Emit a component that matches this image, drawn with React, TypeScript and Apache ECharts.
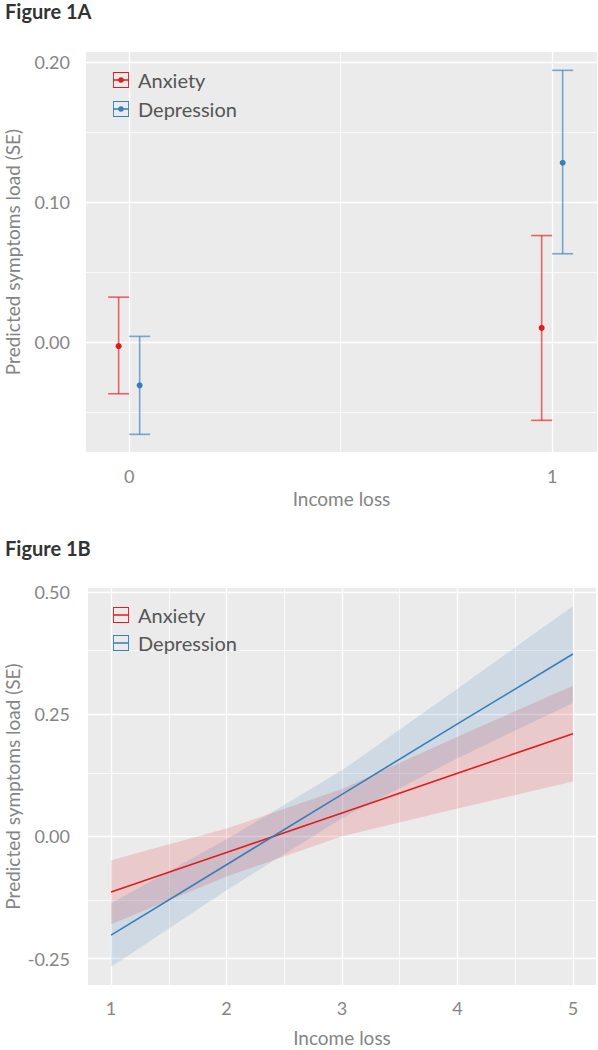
import React, { useEffect, useRef } from "react";
import * as echarts from "echarts";

// ---------- Figure 1A data (point estimate with SE interval) ----------
const incomeLossGroups = [0, 1];
const anxietyMean = [-0.003, 0.01];
const anxietyLow = [-0.037, -0.056];
const anxietyHigh = [0.032, 0.076];
const depressionMean = [-0.031, 0.128];
const depressionLow = [-0.066, 0.063];
const depressionHigh = [0.004, 0.194];
const yTicks1A = [0, 0.1, 0.2];
const yGrid1A = [-0.05, 0, 0.05, 0.1, 0.15, 0.2];
const xGrid1A = [0, 0.5, 1];

// ---------- Figure 1B data (fitted line with SE band) ----------
const incomeLevels = [1, 2, 3, 4, 5];
const anxietyFit = [-0.114, -0.033, 0.048, 0.129, 0.21];
const anxietyLower = [-0.18, -0.082, 0.0, 0.057, 0.112];
const anxietyUpper = [-0.049, 0.016, 0.097, 0.204, 0.308];
const depressionFit = [-0.202, -0.058, 0.086, 0.23, 0.373];
const depressionLower = [-0.267, -0.11, 0.037, 0.16, 0.273];
const depressionUpper = [-0.137, -0.006, 0.135, 0.302, 0.471];
const yTicks1B = [-0.25, 0, 0.25, 0.5];
const yGrid1B = [-0.25, -0.125, 0, 0.125, 0.25, 0.375, 0.5];
const xTicks1B = [1, 2, 3, 4, 5];
const xGrid1B = [1, 1.5, 2, 2.5, 3, 3.5, 4, 4.5, 5];

const RED = "#E41A1C";
const BLUE = "#377EB8";
const FONT = "Lato";
const GRAY_TEXT = "#858585";

const iconPoint =
  "path://M0,0L16,0L16,16L0,16Z M0.9,0.9L0.9,15.1L15.1,15.1L15.1,0.9Z M0.9,7.3L15.1,7.3L15.1,8.7L0.9,8.7Z M5.3,8A2.7,2.7 0 1 1 10.7,8A2.7,2.7 0 1 1 5.3,8Z";
const iconBand =
  "path://M0,0L16,0L16,16L0,16Z M0.9,0.9L0.9,15.1L15.1,15.1L15.1,0.9Z M0.9,7.3L15.1,7.3L15.1,8.7L0.9,8.7Z";

function gridLines(xs: number[], ys: number[], majorX: number[], majorY: number[]) {
  const d: any[] = [];
  xs.forEach((v) =>
    d.push({ xAxis: v, lineStyle: { width: majorX.includes(v) ? 1.3 : 0.7 } })
  );
  ys.forEach((v) =>
    d.push({ yAxis: v, lineStyle: { width: majorY.includes(v) ? 1.3 : 0.7 } })
  );
  return {
    symbol: ["none", "none"],
    silent: true,
    z: 1,
    label: { show: false },
    emphasis: { disabled: true },
    lineStyle: { color: "#FFFFFF", type: "solid", opacity: 1 },
    data: d,
  };
}

function errorBarSeries(
  name: string,
  color: string,
  mean: number[],
  low: number[],
  high: number[],
  offset: number
) {
  return {
    name,
    type: "custom",
    xAxisIndex: 0,
    yAxisIndex: 0,
    z: 3,
    itemStyle: { color },
    data: incomeLossGroups.map((g, i) => [g, mean[i], low[i], high[i]]),
    renderItem: (params: any, api: any) => {
      const x = api.value(0);
      const pm = api.coord([x, api.value(1)]);
      const pl = api.coord([x, api.value(2)]);
      const ph = api.coord([x, api.value(3)]);
      const cx = pm[0] + offset;
      const cap = 10.5;
      const ls = { stroke: color, lineWidth: 1.6, opacity: 0.65 };
      return {
        type: "group",
        children: [
          { type: "line", shape: { x1: cx, y1: pl[1], x2: cx, y2: ph[1] }, style: ls },
          { type: "line", shape: { x1: cx - cap, y1: pl[1], x2: cx + cap, y2: pl[1] }, style: ls },
          { type: "line", shape: { x1: cx - cap, y1: ph[1], x2: cx + cap, y2: ph[1] }, style: ls },
          { type: "circle", shape: { cx, cy: pm[1], r: 3 }, style: { fill: color } },
        ],
      };
    },
  };
}

function bandSeries(name: string, color: string, lower: number[], upper: number[]) {
  return {
    name,
    type: "custom",
    xAxisIndex: 1,
    yAxisIndex: 1,
    z: 2,
    itemStyle: { color },
    data: incomeLevels.map((x, i) => [x, lower[i], upper[i]]),
    renderItem: (params: any, api: any) => {
      if (params.dataIndex !== 0) return null;
      const pts: number[][] = [];
      incomeLevels.forEach((x, i) => pts.push(api.coord([x, upper[i]])));
      for (let i = incomeLevels.length - 1; i >= 0; i--)
        pts.push(api.coord([incomeLevels[i], lower[i]]));
      return {
        type: "polygon",
        shape: { points: pts },
        style: { fill: color, opacity: 0.16 },
      };
    },
  };
}

function lineSeries(name: string, color: string, fit: number[]) {
  return {
    name,
    type: "line",
    xAxisIndex: 1,
    yAxisIndex: 1,
    z: 4,
    symbol: "none",
    color,
    lineStyle: { color, width: 1.6 },
    data: incomeLevels.map((x, i) => [x, fit[i]]),
  };
}

const axisNameStyle = { color: GRAY_TEXT, fontSize: 19, fontFamily: FONT, lineHeight: 19 };
const axisLabelBase = { color: GRAY_TEXT, fontSize: 18, fontFamily: FONT };
const legendText = { color: "#555555", fontSize: 20, fontFamily: FONT, lineHeight: 20, padding: [0, 0, 0, 4] };
const titleText = { fontSize: 20, fontWeight: "bold", color: "#333333", fontFamily: FONT };

export default function App() {
  const ref = useRef<HTMLDivElement>(null);
  useEffect(() => {
    if (!ref.current) return;
    const chart = echarts.init(ref.current, undefined, { renderer: "svg" });
    const option: any = {
      animation: false,
      backgroundColor: "#FFFFFF",
      title: [
        { text: "Figure 1A", left: 5, top: 1, padding: 0, textStyle: titleText },
        { text: "Figure 1B", left: 5, top: 538, padding: 0, textStyle: titleText },
      ],
      legend: [
        {
          orient: "vertical",
          left: 113,
          top: 70,
          padding: 0,
          itemWidth: 16,
          itemHeight: 16,
          itemGap: 9,
          textStyle: legendText,
          selectedMode: false,
          data: [
            { name: "Anxiety", icon: iconPoint, itemStyle: { color: RED } },
            { name: "Depression", icon: iconPoint, itemStyle: { color: BLUE } },
          ],
        },
        {
          orient: "vertical",
          left: 113,
          top: 605,
          padding: 0,
          itemWidth: 16,
          itemHeight: 16,
          itemGap: 8,
          textStyle: legendText,
          selectedMode: false,
          data: [
            { name: "Anxiety", icon: iconBand, itemStyle: { color: RED } },
            { name: "Depression", icon: iconBand, itemStyle: { color: BLUE } },
          ],
        },
      ],
      grid: [
        {
          left: 86, top: 52, width: 511, height: 400,
          show: true, backgroundColor: "#EBEBEB", borderWidth: 0,
          outerBoundsMode: "none", containLabel: false,
        },
        {
          left: 88, top: 588, width: 508, height: 397,
          show: true, backgroundColor: "#EBEBEB", borderWidth: 0,
          outerBoundsMode: "none", containLabel: false,
        },
      ],
      xAxis: [
        {
          type: "value",
          gridIndex: 0,
          min: -0.102,
          max: 1.106,
          splitLine: { show: false },
          axisLine: { show: false },
          axisTick: { show: false },
          axisLabel: { ...axisLabelBase, margin: 15, customValues: incomeLossGroups, formatter: (v: number) => String(v) },
          name: "Income loss",
          nameLocation: "middle",
          nameGap: 37,
          nameMoveOverlap: false,
          nameTextStyle: axisNameStyle,
        },
        {
          type: "value",
          gridIndex: 1,
          min: 0.8,
          max: 5.2,
          splitLine: { show: false },
          axisLine: { show: false },
          axisTick: { show: false },
          axisLabel: { ...axisLabelBase, margin: 14, customValues: xTicks1B, formatter: (v: number) => String(v) },
          name: "Income loss",
          nameLocation: "middle",
          nameGap: 43,
          nameMoveOverlap: false,
          nameTextStyle: axisNameStyle,
        },
      ],
      yAxis: [
        {
          type: "value",
          gridIndex: 0,
          min: -0.0786,
          max: 0.2071,
          splitLine: { show: false },
          axisLine: { show: false },
          axisTick: { show: false },
          axisLabel: { ...axisLabelBase, margin: 16, customValues: yTicks1A, formatter: (v: number) => v.toFixed(2) },
          name: "Predicted symptoms load (SE)",
          nameLocation: "middle",
          nameGap: 64,
          nameMoveOverlap: false,
          nameTextStyle: axisNameStyle,
        },
        {
          type: "value",
          gridIndex: 1,
          min: -0.304,
          max: 0.508,
          splitLine: { show: false },
          axisLine: { show: false },
          axisTick: { show: false },
          axisLabel: { ...axisLabelBase, margin: 18, customValues: yTicks1B, formatter: (v: number) => v.toFixed(2) },
          name: "Predicted symptoms load (SE)",
          nameLocation: "middle",
          nameGap: 66,
          nameMoveOverlap: false,
          nameTextStyle: axisNameStyle,
        },
      ],
      series: [
        {
          name: "grid1A",
          type: "line",
          xAxisIndex: 0,
          yAxisIndex: 0,
          data: [],
          silent: true,
          markLine: gridLines(xGrid1A, yGrid1A, incomeLossGroups, yTicks1A),
        },
        {
          name: "grid1B",
          type: "line",
          xAxisIndex: 1,
          yAxisIndex: 1,
          data: [],
          silent: true,
          markLine: gridLines(xGrid1B, yGrid1B, xTicks1B, yTicks1B),
        },
        errorBarSeries("Anxiety", RED, anxietyMean, anxietyLow, anxietyHigh, -10.5),
        errorBarSeries("Depression", BLUE, depressionMean, depressionLow, depressionHigh, 10.5),
        bandSeries("Anxiety", RED, anxietyLower, anxietyUpper),
        bandSeries("Depression", BLUE, depressionLower, depressionUpper),
        lineSeries("Anxiety", RED, anxietyFit),
        lineSeries("Depression", BLUE, depressionFit),
      ],
    };
    chart.setOption(option);
    return () => chart.dispose();
  }, []);
  return (
    <div
      ref={ref}
      style={{ position: "absolute", left: 0, top: 0, width: 598, height: 1050 }}
    />
  );
}
